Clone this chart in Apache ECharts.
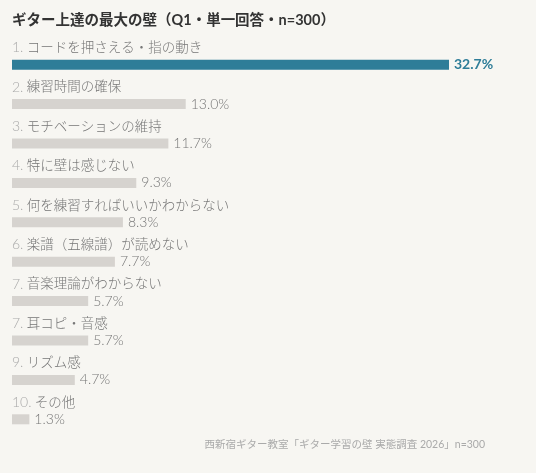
<!DOCTYPE html>
<html>
<head>
<meta charset="utf-8">
<script src="https://cdn.jsdelivr.net/npm/echarts@6/dist/echarts.min.js"></script>
<style>
    html, body {margin: 0; padding: 0; background: #f7f6f2;}
    #main {width: 536px; height: 473px;}
</style>
</head>
<body>
<div id="main"></div>
<script>
    // 回答データ（%）
    const ranks = ['1', '2', '3', '4', '5', '6', '7', '7', '9', '10'];
    const categories = [
        'コードを押さえる・指の動き',
        '練習時間の確保',
        'モチベーションの維持',
        '特に壁は感じない',
        '何を練習すればいいかわからない',
        '楽譜（五線譜）が読めない',
        '音楽理論がわからない',
        '耳コピ・音感',
        'リズム感',
        'その他'
    ];
    const values = [32.7, 13.0, 11.7, 9.3, 8.3, 7.7, 5.7, 5.7, 4.7, 1.3];

    const font = 'Lato, "Noto Sans CJK JP", sans-serif';
    const accent = '#2e7d98';
    const grey = '#d6d3cf';

    const myChart = echarts.init(document.getElementById('main'));
    myChart.setOption({
        backgroundColor: '#f7f6f2',
        animation: false,
        title: [
            {
                text: 'ギター上達の最大の壁（Q1・単一回答・n=300）',
                left: 12,
                top: 13,
                padding: 0,
                textStyle: {fontFamily: font, fontSize: 14.5, fontWeight: 'bold', color: '#333'}
            }, {
                text: '西新宿ギター教室「ギター学習の壁 実態調査 2026」n=300',
                right: 51,
                top: 439,
                padding: 0,
                textStyle: {fontFamily: font, fontSize: 10.5, fontWeight: 'normal', color: '#aaa'}
            }
        ],
        grid: {left: 12, top: 45, width: 437, height: 394},
        xAxis: {
            type: 'value',
            min: 0,
            max: 32.7,
            show: false
        },
        yAxis: {
            type: 'category',
            inverse: true,
            data: categories,
            axisLine: {show: false},
            axisTick: {show: false},
            axisLabel: {
                inside: true,
                margin: 0,
                align: 'left',
                verticalAlign: 'bottom',
                padding: [0, 0, 10, 0],
                formatter: (value, idx) => `{n|${ranks[idx]}.} {t|${value}}`,
                rich: {
                    n: {fontFamily: font, fontSize: 14, fontWeight: 300, color: '#aaa'},
                    t: {fontFamily: font, fontSize: 13.5, fontWeight: 300, color: '#777'}
                }
            }
        },
        series: [
            {
                type: 'bar',
                data: values.map((v, i) => ({
                    value: v,
                    itemStyle: {color: i === 0 ? accent : grey},
                    label: i === 0
                        ? {color: accent, fontWeight: 'bold'}
                        : {color: '#777', fontWeight: 300}
                })),
                barWidth: 10,
                silent: true,
                label: {
                    show: true,
                    position: 'right',
                    distance: 5,
                    fontFamily: font,
                    fontSize: 14,
                    formatter: p => p.value.toFixed(1) + '%'
                }
            }
        ]
    });
</script>
</body>
</html>
